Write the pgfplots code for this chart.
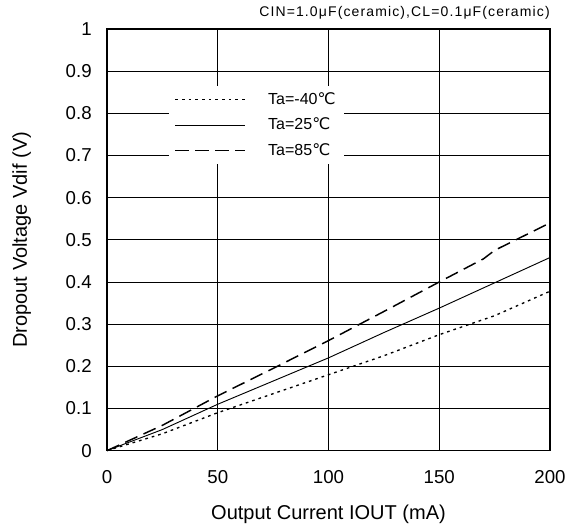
\documentclass[border=0pt]{standalone}
\usepackage{fontspec}
\setmainfont{Liberation Sans}
\newfontfamily\dejavu{DejaVu Sans}
\newfontfamily\spaced[LetterSpace=8]{Liberation Sans}
\usepackage{pgfplots}
\pgfplotsset{compat=1.18}
\newcommand{\degc}{{\dejavu ℃}}
\begin{document}
\begin{tikzpicture}
\path[use as bounding box] (-80.25pt,-59.25pt) rectangle (355.25pt,337.75pt);
\begin{axis}[
  at={(0,0)}, anchor=south west,
  scale only axis, width=332pt, height=316pt,
  xmin=0, xmax=200, ymin=0, ymax=1,
  xtick={0,50,100,150,200},
  ytick={0,0.1,0.2,0.3,0.4,0.5,0.6,0.7,0.8,0.9,1},
  yticklabels={0,0.1,0.2,0.3,0.4,0.5,0.6,0.7,0.8,0.9,1},
  major tick length=0pt,
  grid=major,
  major grid style={black, line width=0.6pt},
  axis line style={black, line width=1.2pt},
  /pgf/number format/assume math mode=true,
  tick label style={font=\fontsize{14}{16}\selectfont},
  xticklabel style={yshift=-11pt},
  yticklabel style={xshift=-8pt},
  xlabel={Output Current IOUT (mA)},
  ylabel={Dropout Voltage Vdif (V)},
  label style={font=\fontsize{15}{17}\selectfont},
  xlabel style={at={(axis description cs:0.5,-0.152)}, anchor=center},
  ylabel style={at={(axis description cs:-0.193,0.5)}, anchor=center},
  legend style={at={(0.14,0.865)}, anchor=north west, draw=none, fill=white,
    font=\fontsize{12}{14}\selectfont, row sep=4.5pt, inner xsep=4pt, inner ysep=3pt},
  legend cell align=left,
  legend image code/.code={\draw[#1] (0pt,0pt) -- (52pt,0pt);},
  clip=false,
]
\addplot[black, line width=1pt, dash pattern=on 2pt off 3pt] coordinates {
(0,0) (25,0.04) (50,0.09) (75,0.135) (100,0.18) (125,0.225) (150,0.275) (175,0.32) (200,0.378)};
\addlegendentry{\hspace{15pt}Ta=-40\degc}
\addplot[black, line width=0.7pt] coordinates {
(0,0) (25,0.05) (50,0.11) (75,0.165) (100,0.22) (125,0.28) (150,0.338) (175,0.398) (200,0.458)};
\addlegendentry{\hspace{15pt}Ta=25\degc}
\addplot[black, line width=1.1pt, dash pattern=on 10pt off 5pt] coordinates {
(0,0) (25,0.06) (50,0.13) (75,0.195) (100,0.261) (125,0.33) (150,0.40) (170,0.455) (175,0.475) (200,0.54)};
\addlegendentry{\hspace{15pt}Ta=85\degc}
\node[anchor=south east, font=\spaced\fontsize{10.5}{12}\selectfont, inner sep=0pt] at (rel axis cs:1,1) [yshift=7pt] {CIN=1.0μF(ceramic),CL=0.1μF(ceramic)};
\end{axis}
\end{tikzpicture}
\end{document}
